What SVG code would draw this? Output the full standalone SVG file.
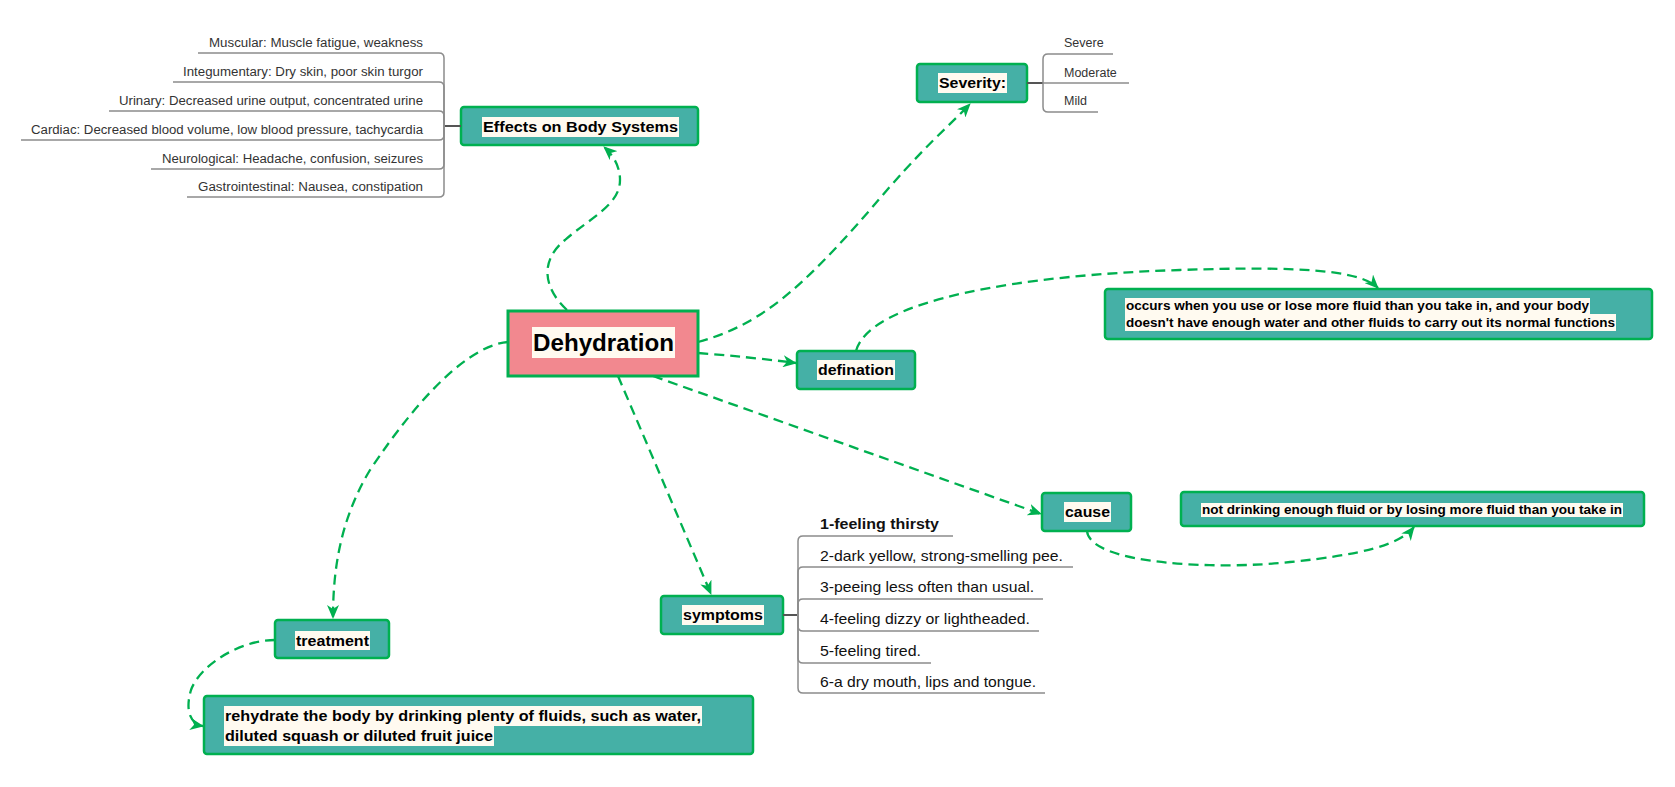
<svg xmlns="http://www.w3.org/2000/svg" width="1675" height="787" viewBox="0 0 1675 787">
<defs>
<marker id="arr" viewBox="0 0 14 12" refX="13" refY="6" markerWidth="14" markerHeight="12" markerUnits="userSpaceOnUse" orient="auto">
<path d="M0,0 L14,6 L0,12 L4,6 Z" fill="#00B050"/>
</marker>
<style>
.node{fill:#45B0A6;stroke:#00B050;stroke-width:2.5}
.root{fill:#F2888F;stroke:#00B050;stroke-width:3}
.hl{fill:#FFFAF0}
.lbl{font-family:"Liberation Sans",Arial,sans-serif;font-weight:bold;fill:#000}
.item{font-family:"Liberation Sans",Arial,sans-serif;fill:#333;font-size:12.5px}
.sym{font-family:"Liberation Sans",Arial,sans-serif;fill:#111;font-size:15px}
.conn{fill:none;stroke:#00B050;stroke-width:2.3;stroke-dasharray:10 6;marker-end:url(#arr)}
.tree{fill:none;stroke:#8c8c8c;stroke-width:1.5}
.stem{fill:none;stroke:#555;stroke-width:2}
</style>
</defs>
<rect width="1675" height="787" fill="#fff"/>

<g id="connectors">
<path class="conn" d="M567,310 C545,290 538,262 565,240 C590,218 620,205 620,180 C620,166 613,155 604,147"/>
<path class="conn" d="M698,342 C760,325 800,290 870,210 C920,150 950,125 970,104"/>
<path class="conn" d="M698,353 Q750,357 796,363"/>
<path class="conn" d="M653,376 L1041,514"/>
<path class="conn" d="M618,376 L711,594"/>
<path class="conn" d="M508,342 C470,345 420,395 370,470 C340,520 333,570 333,618"/>
<path class="conn" d="M856,351 C870,300 1020,275 1180,270 C1300,266 1360,270 1378,288"/>
<path class="conn" d="M1087,531 C1090,565 1220,570 1290,562 C1360,555 1400,545 1414,527"/>
<path class="conn" d="M275,640 C240,640 200,665 191,690 C185,710 190,724 203,726"/>
</g>

<g id="root">
<rect class="root" x="508" y="311" width="190" height="65"/>
<rect class="hl" x="532" y="327" width="143" height="31"/>
<text class="lbl" x="533" y="351" font-size="24" textLength="141" lengthAdjust="spacingAndGlyphs">Dehydration</text>
</g>

<g id="effects">
<rect class="node" x="461" y="107" width="237" height="38" rx="3"/>
<rect class="hl" x="482" y="117" width="197" height="20"/>
<text class="lbl" x="483" y="132" font-size="15.5" textLength="195" lengthAdjust="spacingAndGlyphs">Effects on Body Systems</text>
<path class="stem" d="M461,126 H444"/>
<path class="tree" d="M198,53 H439 Q444,53 444,58 V126"/>
<path class="tree" d="M173,82 H439 Q444,82 444,87 V126"/>
<path class="tree" d="M109,111 H439 Q444,111 444,116 V126"/>
<path class="tree" d="M21,140 H439 Q444,140 444,135 V126"/>
<path class="tree" d="M151,169 H439 Q444,169 444,164 V126"/>
<path class="tree" d="M187,197 H439 Q444,197 444,192 V126"/>
<text class="item" x="423" y="47" text-anchor="end" textLength="214" lengthAdjust="spacingAndGlyphs">Muscular: Muscle fatigue, weakness</text>
<text class="item" x="423" y="76" text-anchor="end" textLength="240" lengthAdjust="spacingAndGlyphs">Integumentary: Dry skin, poor skin turgor</text>
<text class="item" x="423" y="105" text-anchor="end" textLength="304" lengthAdjust="spacingAndGlyphs">Urinary: Decreased urine output, concentrated urine</text>
<text class="item" x="423" y="134" text-anchor="end" textLength="392" lengthAdjust="spacingAndGlyphs">Cardiac: Decreased blood volume, low blood pressure, tachycardia</text>
<text class="item" x="423" y="163" text-anchor="end" textLength="261" lengthAdjust="spacingAndGlyphs">Neurological: Headache, confusion, seizures</text>
<text class="item" x="423" y="191" text-anchor="end" textLength="225" lengthAdjust="spacingAndGlyphs">Gastrointestinal: Nausea, constipation</text>
</g>

<g id="severity">
<rect class="node" x="917" y="64" width="110" height="38" rx="3"/>
<rect class="hl" x="938" y="73" width="69" height="20"/>
<text class="lbl" x="939" y="88" font-size="15" textLength="67" lengthAdjust="spacingAndGlyphs">Severity:</text>
<path class="stem" d="M1027,83 H1043"/>
<path class="tree" d="M1113,54 H1048 Q1043,54 1043,59 V83"/>
<path class="tree" d="M1043,83 H1129"/>
<path class="tree" d="M1098,112 H1048 Q1043,112 1043,107 V83"/>
<text class="item" x="1064" y="47">Severe</text>
<text class="item" x="1064" y="77">Moderate</text>
<text class="item" x="1064" y="105">Mild</text>
</g>

<g id="defination">
<rect class="node" x="797" y="351" width="118" height="38" rx="3"/>
<rect class="hl" x="817" y="360" width="78" height="20"/>
<text class="lbl" x="818" y="375" font-size="15" textLength="76" lengthAdjust="spacingAndGlyphs">defination</text>
</g>

<g id="defination-text">
<rect class="node" x="1105" y="289" width="547" height="50" rx="3"/>
<rect class="hl" x="1125" y="298" width="465" height="16"/>
<rect class="hl" x="1125" y="314" width="491" height="17"/>
<text class="lbl" x="1126" y="310" font-size="12.5" textLength="463" lengthAdjust="spacingAndGlyphs">occurs when you use or lose more fluid than you take in, and your body</text>
<text class="lbl" x="1126" y="327" font-size="12.5" textLength="489" lengthAdjust="spacingAndGlyphs">doesn't have enough water and other fluids to carry out its normal functions</text>
</g>

<g id="cause">
<rect class="node" x="1042" y="493" width="89" height="38" rx="3"/>
<rect class="hl" x="1064" y="502" width="47" height="20"/>
<text class="lbl" x="1065" y="517" font-size="15" textLength="45" lengthAdjust="spacingAndGlyphs">cause</text>
</g>

<g id="cause-text">
<rect class="node" x="1181" y="492" width="463" height="34" rx="3"/>
<rect class="hl" x="1201" y="503" width="422" height="14"/>
<text class="lbl" x="1202" y="514" font-size="12.5" textLength="420" lengthAdjust="spacingAndGlyphs">not drinking enough fluid or by losing more fluid than you take in</text>
</g>

<g id="symptoms">
<rect class="node" x="661" y="596" width="122" height="38" rx="3"/>
<rect class="hl" x="682" y="605" width="82" height="20"/>
<text class="lbl" x="683" y="620" font-size="15" textLength="80" lengthAdjust="spacingAndGlyphs">symptoms</text>
<path class="stem" d="M783,615 H798"/>
<path class="tree" d="M953,536 H803 Q798,536 798,541 V615"/>
<path class="tree" d="M1073,567 H803 Q798,567 798,572 V615"/>
<path class="tree" d="M1043,599 H803 Q798,599 798,604 V615"/>
<path class="tree" d="M1039,631 H803 Q798,631 798,626 V615"/>
<path class="tree" d="M931,663 H803 Q798,663 798,658 V615"/>
<path class="tree" d="M1045,693 H803 Q798,693 798,688 V615"/>
<text class="sym" x="820" y="529" font-weight="bold" textLength="119" lengthAdjust="spacingAndGlyphs">1-feeling thirsty</text>
<text class="sym" x="820" y="561" textLength="243" lengthAdjust="spacingAndGlyphs">2-dark yellow, strong-smelling pee.</text>
<text class="sym" x="820" y="592" textLength="214" lengthAdjust="spacingAndGlyphs">3-peeing less often than usual.</text>
<text class="sym" x="820" y="624" textLength="210" lengthAdjust="spacingAndGlyphs">4-feeling dizzy or lightheaded.</text>
<text class="sym" x="820" y="656" textLength="101" lengthAdjust="spacingAndGlyphs">5-feeling tired.</text>
<text class="sym" x="820" y="687" textLength="216" lengthAdjust="spacingAndGlyphs">6-a dry mouth, lips and tongue.</text>
</g>

<g id="treatment">
<rect class="node" x="275" y="620" width="114" height="38" rx="3"/>
<rect class="hl" x="295" y="631" width="75" height="19"/>
<text class="lbl" x="296" y="646" font-size="15" textLength="73" lengthAdjust="spacingAndGlyphs">treatment</text>
</g>

<g id="treatment-text">
<rect class="node" x="204" y="696" width="549" height="58" rx="3"/>
<rect class="hl" x="224" y="706" width="478" height="20"/>
<rect class="hl" x="224" y="726" width="270" height="20"/>
<text class="lbl" x="225" y="721" font-size="15" textLength="476" lengthAdjust="spacingAndGlyphs">rehydrate the body by drinking plenty of fluids, such as water,</text>
<text class="lbl" x="225" y="741" font-size="15" textLength="268" lengthAdjust="spacingAndGlyphs">diluted squash or diluted fruit juice</text>
</g>
</svg>
